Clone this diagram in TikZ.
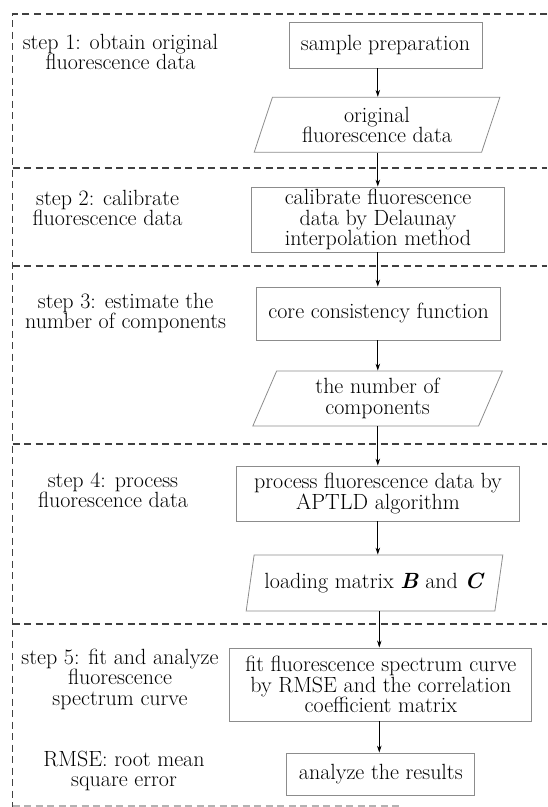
\documentclass[tikz,border=0pt]{standalone}
\usetikzlibrary{arrows.meta,shapes.geometric}
\setlength{\lineskiplimit}{-8pt}
\begin{document}
\begin{tikzpicture}[x=1pt,y=-1pt,
  every node/.style={font=\fontsize{22}{20.5}\selectfont, align=center, inner sep=0pt},
  procbox/.style={draw=black!45, line width=0.8pt, minimum height=#1},
  databox/.style={draw=black!45, line width=0.8pt, trapezium, trapezium left angle=70, trapezium right angle=110, trapezium stretches=true, minimum height=55pt, minimum width=#1},
  steplabel/.style={text=black},
  sep/.style={draw=black!75, line width=1.4pt, dash pattern=on 7pt off 4.5pt},
  flow/.style={draw=black, line width=0.8pt, -{Stealth[length=7pt,width=4.5pt]}}
]
\useasboundingbox (0,0) rectangle (547,807);
% dashed separators
\draw[sep] (547,14) -- (12.7,14) -- (12.7,807);
\draw[sep] (12.7,168) -- (547,168);
\draw[sep] (12.7,266) -- (547,266);
\draw[sep] (12.7,444) -- (547,444);
\draw[sep] (12.7,624) -- (547,624);
\draw[sep, draw=black!30] (12.7,806) -- (400,806);
\coordinate (ax) at (377.8,0);
\coordinate (ax2) at (379.3,0);
% flow nodes
\node[procbox=46pt, minimum width=193pt] (n1) at (385.5,45) {sample preparation};
\node[databox=246pt] (d1) at (377,124.8) {original\\fluorescence data};
\node[procbox=65pt, minimum width=253pt] (n2) at (378,219.5) {calibrate fluorescence\\data by Delaunay\\interpolation method};
\node[procbox=53pt, minimum width=244pt] (n3) at (378.6,313.5) {core consistency function};
\node[databox=250pt] (d2) at (377.6,398.5) {the number of\\components};
\node[procbox=55pt, minimum width=283pt] (n4) at (378,493.5) {process fluorescence data by\\APTLD algorithm};
\node[databox=257pt, minimum height=56pt] (d3) at (374.5,583) {loading matrix \textit{\textbf{B}} and \textit{\textbf{C}}};
\node[procbox=73pt, minimum width=302pt] (n5) at (380.8,684.4) {fit fluorescence spectrum curve\\by RMSE and the correlation\\coefficient matrix};
\node[procbox=42pt, minimum width=188pt] (n6) at (380.8,774) {analyze the results};
% step labels
\node[steplabel] (s1) at (120.5,52) {step 1: obtain original\\fluorescence data};
\node[steplabel] (s2) at (107.6,208) {step 2: calibrate\\fluorescence data};
\node[steplabel] (s3) at (125.6,313) {step 3: estimate the\\number of components};
\node[steplabel] (s4) at (113,490) {step 4: process\\fluorescence data};
\node[steplabel] (s5) at (120,679) {step 5: fit and analyze\\fluorescence\\spectrum curve};
\node[steplabel] (s6) at (124,771) {RMSE: root mean\\square error};
% connectors
\draw[flow] (n1.south -| ax) -- (d1.north -| ax);
\draw[flow] (d1.south -| ax) -- (n2.north -| ax);
\draw[flow] (n2.south -| ax) -- (n3.north -| ax);
\draw[flow] (n3.south -| ax) -- (d2.north -| ax);
\draw[flow] (d2.south -| ax) -- (n4.north -| ax);
\draw[flow] (n4.south -| ax) -- (d3.north -| ax);
\draw[flow] (d3.south -| ax2) -- (n5.north -| ax2);
\draw[flow] (n5.south -| ax2) -- (n6.north -| ax2);
\end{tikzpicture}
\end{document}
